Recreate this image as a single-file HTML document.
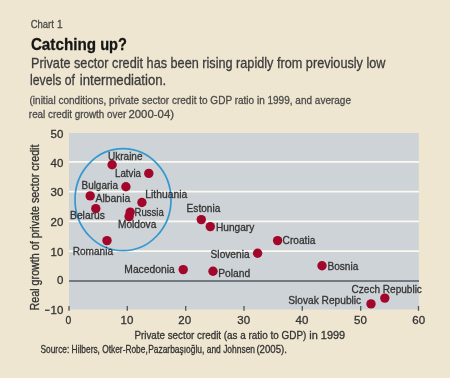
<!DOCTYPE html>
<html><head><meta charset="utf-8">
<style>
html,body{margin:0;padding:0;background:#EEE6D0;width:450px;height:378px;overflow:hidden}
svg{display:block;font-family:"Liberation Sans",sans-serif;will-change:transform}
text{stroke-width:0.3px}
</style></head>
<body>
<svg width="450" height="378" viewBox="0 0 450 378">
<rect x="0" y="0" width="450" height="378" fill="#EEE6D0"/>
<!-- header -->
<text x="30.63" y="28.2" font-size="11.4" fill="#4a4a4a" stroke="#4a4a4a" textLength="23.23" lengthAdjust="spacingAndGlyphs">Chart</text>
<text x="57.04" y="28.2" font-size="11.4" fill="#4a4a4a" stroke="#4a4a4a" textLength="5.63" lengthAdjust="spacingAndGlyphs">1</text>
<g font-size="17" font-weight="bold" fill="#161616" stroke="#161616" style="stroke-width:0.45px">
<text x="30.89" y="49.6" textLength="65.14" lengthAdjust="spacingAndGlyphs">Catching</text>
<text x="100.13" y="49.6" textLength="26.71" lengthAdjust="spacingAndGlyphs">up?</text>
</g>
<text x="31" y="67.8" font-size="14.3" fill="#3c3c3c" stroke="#3c3c3c" textLength="354.5" lengthAdjust="spacingAndGlyphs">Private sector credit has been rising rapidly from previously low</text>
<text x="30.1" y="84.5" font-size="14.3" fill="#3c3c3c" stroke="#3c3c3c" textLength="44.88" lengthAdjust="spacingAndGlyphs">levels of</text>
<text x="79.74" y="84.5" font-size="14.3" fill="#3c3c3c" stroke="#3c3c3c" textLength="86.5" lengthAdjust="spacingAndGlyphs">intermediation.</text>
<text x="29.5" y="104.4" font-size="11.6" fill="#4a4a4a" stroke="#4a4a4a" textLength="321.5" lengthAdjust="spacingAndGlyphs">(initial conditions, private sector credit to GDP ratio in 1999, and average</text>
<text x="28.86" y="117.8" font-size="11.6" fill="#4a4a4a" stroke="#4a4a4a" textLength="97.32" lengthAdjust="spacingAndGlyphs">real credit growth over</text>
<text x="128.43" y="117.8" font-size="11.6" fill="#4a4a4a" stroke="#4a4a4a" textLength="45.59" lengthAdjust="spacingAndGlyphs">2000-04)</text>

<!-- plot -->
<rect x="69" y="133" width="349.8" height="176.5" fill="#CED3D7"/>
<g stroke="#FBFAF2" stroke-width="1.8">
<line x1="69" x2="419" y1="251.2" y2="251.2"/>
<line x1="69" x2="419" y1="221.4" y2="221.4"/>
<line x1="69" x2="419" y1="191.6" y2="191.6"/>
<line x1="69" x2="419" y1="161.8" y2="161.8"/>
</g>
<line x1="69" x2="419" y1="281" y2="281" stroke="#737980" stroke-width="2"/>
<g stroke="#50555b" stroke-width="1.3">
<line x1="69" x2="69" y1="306" y2="310.8"/>
<line x1="127.3" x2="127.3" y1="306" y2="310.8"/>
<line x1="185.7" x2="185.7" y1="306" y2="310.8"/>
<line x1="244" x2="244" y1="306" y2="310.8"/>
<line x1="302.3" x2="302.3" y1="306" y2="310.8"/>
<line x1="360.7" x2="360.7" y1="306" y2="310.8"/>
<line x1="418.5" x2="418.5" y1="306" y2="310.8"/>
</g>

<!-- circle -->
<ellipse cx="123" cy="199.7" rx="48" ry="51" fill="none" stroke="#3599CF" stroke-width="1.75"/>

<!-- y labels -->
<g font-size="11.5" fill="#333" stroke="#333" style="stroke-width:0px" text-anchor="end">
<text x="63.4" y="137.6">50</text>
<text x="63.4" y="167.1">40</text>
<text x="63.4" y="196.4">30</text>
<text x="63.4" y="226.4">20</text>
<text x="63.4" y="255.5">10</text>
<text x="63.4" y="284.4">0</text>
<text x="63.4" y="314">10</text>
</g>
<rect x="45" y="309.6" width="4.6" height="1.3" fill="#3a3a3a"/>
<!-- x labels -->
<g font-size="11.5" fill="#333" stroke="#333" style="stroke-width:0px" text-anchor="middle">
<text x="68.3" y="324.2" textLength="5.8" lengthAdjust="spacingAndGlyphs">0</text>
<text x="127" y="324.2">10</text>
<text x="184.7" y="324.2">20</text>
<text x="243.7" y="324.2">30</text>
<text x="302" y="324.2">40</text>
<text x="360.4" y="324.2">50</text>
<text x="418.7" y="324.2">60</text>
</g>
<g font-size="11" fill="#333" stroke="#333">
<text x="134.42" y="338.7" textLength="86.65" lengthAdjust="spacingAndGlyphs">Private sector credit</text>
<text x="223.71" y="338.7" textLength="82.6" lengthAdjust="spacingAndGlyphs">(as a ratio to GDP)</text>
<text x="309.29" y="338.7" textLength="35.91" lengthAdjust="spacingAndGlyphs">in 1999</text>
</g>
<text transform="translate(39.2,310.5) rotate(-90)" x="0" y="0" font-size="12.6" fill="#333" stroke="#333" textLength="166" lengthAdjust="spacingAndGlyphs">Real growth of private sector credit</text>
<g font-size="10.3" fill="#333" stroke="#333">
<text x="40.52" y="353.2" textLength="107.21" lengthAdjust="spacingAndGlyphs">Source: Hilbers, Otker-Robe,</text>
<text x="148.13" y="353.2" textLength="106.93" lengthAdjust="spacingAndGlyphs">Pazarbaşıoğlu, and Johnsen</text>
<text x="256.42" y="353.2" textLength="30.48" lengthAdjust="spacingAndGlyphs">(2005).</text>
</g>

<!-- dots -->
<g fill="#A3062B">
<circle cx="112.1" cy="164.7" r="4.7"/>
<circle cx="148.8" cy="173.4" r="4.7"/>
<circle cx="125.9" cy="186.8" r="4.7"/>
<circle cx="90.2" cy="195.9" r="4.7"/>
<circle cx="141.9" cy="202.5" r="4.7"/>
<circle cx="95.8" cy="208.6" r="4.7"/>
<circle cx="129.1" cy="216.6" r="4.7"/>
<circle cx="130.2" cy="212.1" r="4.7"/>
<circle cx="107.0" cy="240.6" r="4.7"/>
<circle cx="201.3" cy="219.6" r="4.7"/>
<circle cx="210.3" cy="226.6" r="4.7"/>
<circle cx="277.6" cy="240.6" r="4.7"/>
<circle cx="257.6" cy="253.3" r="4.7"/>
<circle cx="183.2" cy="269.6" r="4.7"/>
<circle cx="213.0" cy="271.3" r="4.7"/>
<circle cx="322.0" cy="265.7" r="4.7"/>
<circle cx="384.8" cy="298.1" r="4.7"/>
<circle cx="371.0" cy="303.9" r="4.7"/>
</g>

<!-- labels -->
<g font-size="10.9" fill="#333" stroke="#333" style="stroke-width:0.15px">
<text x="108" y="160" textLength="34.5" lengthAdjust="spacingAndGlyphs">Ukraine</text>
<text x="115" y="176.7" textLength="26" lengthAdjust="spacingAndGlyphs">Latvia</text>
<text x="81.5" y="189.3" textLength="36.5" lengthAdjust="spacingAndGlyphs">Bulgaria</text>
<text x="95.5" y="201.7" textLength="34.8" lengthAdjust="spacingAndGlyphs">Albania</text>
<text x="145.3" y="197.7" textLength="42" lengthAdjust="spacingAndGlyphs">Lithuania</text>
<text x="70.0" y="219.1" textLength="35" lengthAdjust="spacingAndGlyphs">Belarus</text>
<text x="134.5" y="215.9" textLength="29.2" lengthAdjust="spacingAndGlyphs">Russia</text>
<text x="118.0" y="228.4" textLength="38.3" lengthAdjust="spacingAndGlyphs">Moldova</text>
<text x="72.7" y="254.5" textLength="40.3" lengthAdjust="spacingAndGlyphs">Romania</text>
<text x="186.6" y="212.1" textLength="33.7" lengthAdjust="spacingAndGlyphs">Estonia</text>
<text x="216.0" y="231.1" textLength="38.3" lengthAdjust="spacingAndGlyphs">Hungary</text>
<text x="282.6" y="244.4" textLength="32.7" lengthAdjust="spacingAndGlyphs">Croatia</text>
<text x="210.6" y="258.1" textLength="39" lengthAdjust="spacingAndGlyphs">Slovenia</text>
<text x="124.3" y="272.7" textLength="50.4" lengthAdjust="spacingAndGlyphs">Macedonia</text>
<text x="218.2" y="276.8" textLength="32" lengthAdjust="spacingAndGlyphs">Poland</text>
<text x="327.4" y="269.5" textLength="30.9" lengthAdjust="spacingAndGlyphs">Bosnia</text>
<text x="351.6" y="292.8" textLength="70.3" lengthAdjust="spacingAndGlyphs">Czech Republic</text>
<text x="288.2" y="304.4" textLength="73" lengthAdjust="spacingAndGlyphs">Slovak Republic</text>
</g>
</svg>
</body></html>
